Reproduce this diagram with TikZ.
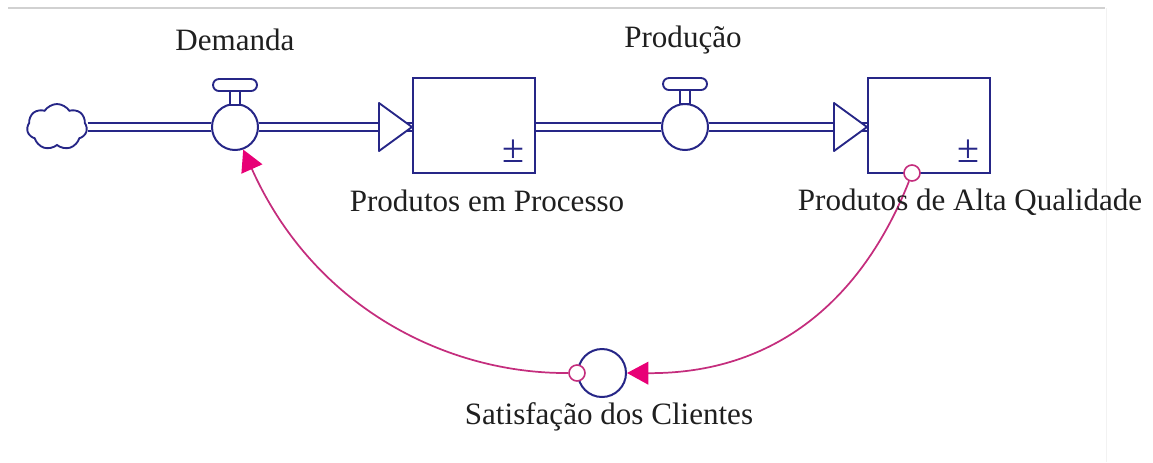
\documentclass[tikz,border=0pt]{standalone}
\usepackage{fontspec}
\setmainfont{Liberation Serif}
\usetikzlibrary{arrows.meta,shapes.symbols}

\definecolor{navy}{RGB}{38,38,135}
\definecolor{linkpink}{RGB}{196,45,125}
\definecolor{headpink}{RGB}{232,0,118}

\tikzset{
  pipe/.style={draw=navy,line width=1.7pt,double=white,double distance=4.2pt},
  pipehead/.style={draw=navy,line width=1.4pt,fill=white,line join=round},
  valve/.style={circle,draw=navy,line width=1.5pt,fill=white,minimum size=34.5pt,inner sep=0pt},
  handle/.style={rectangle,rounded corners=4.5pt,draw=navy,line width=1.4pt,fill=white,minimum width=33pt,minimum height=9pt,inner sep=0pt},
  stem/.style={rectangle,draw=navy,line width=1.4pt,fill=white,minimum width=8pt,minimum height=10pt,inner sep=0pt},
  stock/.style={rectangle,draw=navy,line width=1.5pt,fill=white,minimum width=91.5pt,minimum height=71.25pt,inner sep=0pt},
  aux/.style={circle,draw=navy,line width=1.5pt,fill=white,minimum size=36pt,inner sep=0pt},
  tail/.style={circle,draw=linkpink,line width=1.2pt,fill=white,minimum size=12pt,inner sep=0pt},
  link/.style={draw=linkpink,line width=1.3pt,-{Triangle[length=16pt,width=17pt,color=headpink]}},
  lbl/.style={font=\fontsize{23.3}{28}\selectfont,text=black!88,inner sep=0.75pt},
  pm/.style={font=\fontsize{30}{32}\selectfont,text=navy,inner sep=0pt}
}

\begin{document}
\begin{tikzpicture}[x=0.75pt,y=0.75pt,yscale=-1,xscale=1]
\useasboundingbox (0,0) rectangle (1153,462);

%Frame lines
\draw [color=black!18,line width=1.5pt] (8,8) -- (1105,8) ;
\draw [color=black!5,line width=0.75pt] (1106,8) -- (1106,462) ;

%Shape: Cloud
\node [cloud,cloud puffs=7,cloud puff arc=115,aspect=1.3,draw=navy,line width=1.4pt,fill=white,minimum width=45pt,minimum height=34.5pt,inner sep=0pt] (src) at (57,127) {};

%Shape: Stocks
\node [stock] (s1) at (474,125.5) {};
\node [stock] (s2) at (929,125.5) {};

%Shape: Valves
\node [valve] (v1) at (235,127) {};
\node [valve] (v2) at (685,127) {};

%Shape: Auxiliary
\node [aux] (sat) at (602,373) {};

%Pipes
\draw [pipe] (src.east |- v1.west) -- (v1.west) ;
\draw [pipe] (v1.east) -- (s1.west |- v1.east) ;
\draw [pipe] (s1.east |- v2.west) -- (v2.west) ;
\draw [pipe] (v2.east) -- (s2.west |- v2.east) ;
\draw [pipehead] (s1.west |- v1.east) -- ++(-33,-24) -- ++(0,48) -- cycle ;
\draw [pipehead] (s2.west |- v2.east) -- ++(-33,-24) -- ++(0,48) -- cycle ;

%Valve handles
\node [stem] (st1) at (235,98) {};
\node [handle] (h1) at (235,85) {};
\node [stem] (st2) at (685,97) {};
\node [handle] (h2) at (685,84) {};

% Plus minus marks
\node [pm] (pm1) at (513,151) {±};
\node [pm] (pm2) at (968,151) {±};

%Curve Lines
\node [tail] (t1) at (912,173) {};
\node [tail] (t2) at (sat.west) {};
\draw [link] (t1.-110) .. controls (862,300) and (775,374) .. (sat.east) ;
\draw [link] (t2.west) .. controls (450,374) and (315,310) .. (v1.-70) ;

% Text Node
\node [lbl] (lv1) at (235,40) {Demanda};
% Text Node
\node [lbl] (lv2) at (683,40) {Produção};
% Text Node
\node [lbl] (ls1) at (487,201) {Produtos em Processo};
% Text Node
\node [lbl] (ls2) at (970,202) {Produtos de Alta Qualidade};
% Text Node
\node [lbl] (lsat) at (609,417) {Satisfação dos Clientes};

\end{tikzpicture}
\end{document}
